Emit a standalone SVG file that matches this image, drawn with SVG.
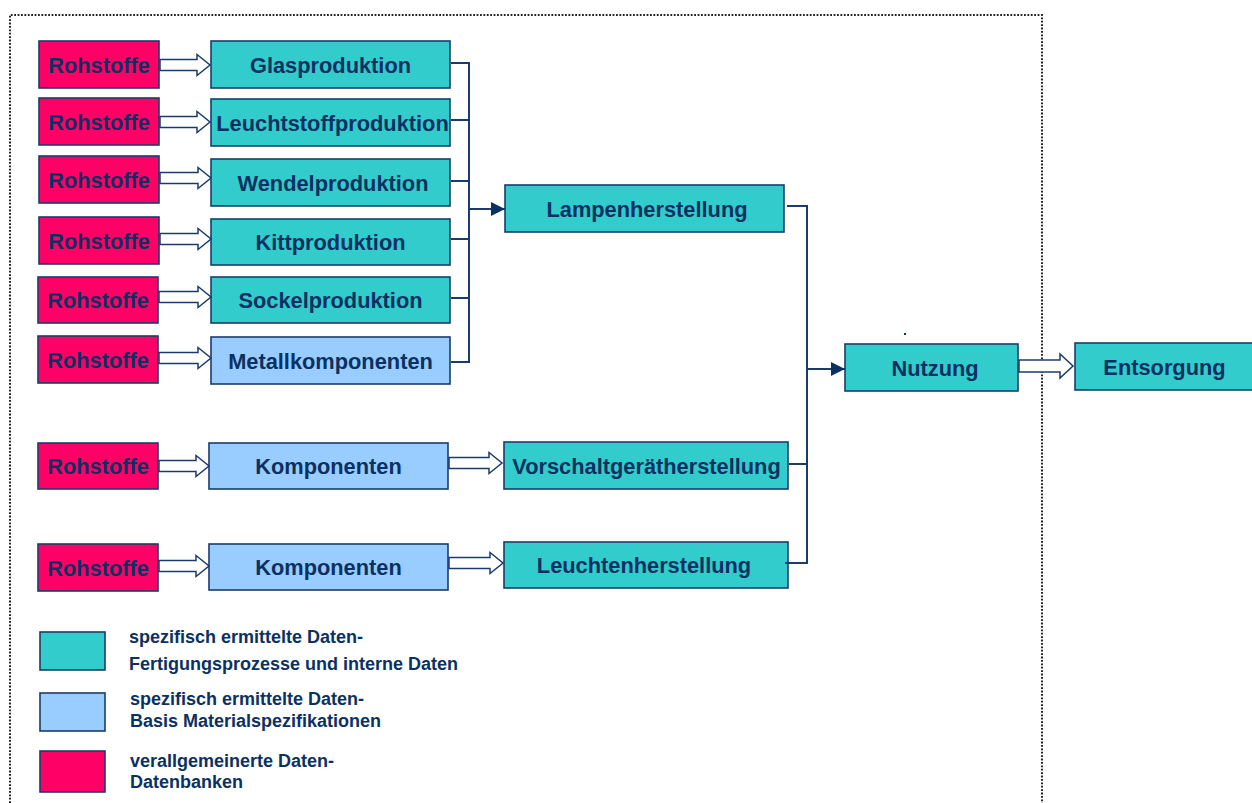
<svg xmlns="http://www.w3.org/2000/svg" width="1252" height="803" viewBox="0 0 1252 803">
  <style>
    .box { stroke: #1b3c6b; stroke-width: 1.6; }
    .raw { fill: #ff0066; }
    .proc { fill: #33cccc; }
    .comp { fill: #99ccff; }
    .lbl { font-family: "Liberation Sans", Arial, sans-serif; font-weight: bold; font-size: 21.8px; fill: #0b3162; text-anchor: middle; }
    .leg { font-family: "Liberation Sans", Arial, sans-serif; font-weight: bold; font-size: 18px; fill: #0b3162; }
    .hollow { fill: #ffffff; stroke: #1b3c6b; stroke-width: 1.5; stroke-linejoin: miter; }
    .wire { fill: none; stroke: #1b3c6b; stroke-width: 2; }
    .frame { fill: none; stroke: #222222; stroke-width: 2; stroke-dasharray: 1.8 1.6; }
  </style>
  <defs>
    <marker id="tri" markerUnits="userSpaceOnUse" markerWidth="14" markerHeight="14" refX="14" refY="7" orient="auto">
      <path d="M0,0 L14,7 L0,14 Z" fill="#0b3162"/>
    </marker>
  </defs>

  <!-- system boundary -->
  <path class="frame" d="M10,803 V15 H1042 V803"/>

  <!-- raw material inputs -->
  <g id="raw1"><rect class="box raw" x="39" y="41" width="120" height="47"/><text class="lbl" x="99" y="72.5">Rohstoffe</text></g>
  <g id="raw2"><rect class="box raw" x="39" y="98" width="120" height="47"/><text class="lbl" x="99" y="129.5">Rohstoffe</text></g>
  <g id="raw3"><rect class="box raw" x="39" y="156" width="120" height="47"/><text class="lbl" x="99" y="187.5">Rohstoffe</text></g>
  <g id="raw4"><rect class="box raw" x="39" y="217" width="120" height="47"/><text class="lbl" x="99" y="248.5">Rohstoffe</text></g>
  <g id="raw5"><rect class="box raw" x="38" y="277" width="120" height="46"/><text class="lbl" x="98" y="308">Rohstoffe</text></g>
  <g id="raw6"><rect class="box raw" x="38" y="336" width="120" height="47"/><text class="lbl" x="98" y="367.5">Rohstoffe</text></g>
  <g id="raw7"><rect class="box raw" x="38" y="443" width="120" height="46"/><text class="lbl" x="98" y="474">Rohstoffe</text></g>
  <g id="raw8"><rect class="box raw" x="38" y="544" width="120" height="47"/><text class="lbl" x="98" y="575.5">Rohstoffe</text></g>

  <!-- lamp sub-processes -->
  <g id="glas"><rect class="box proc" x="211" y="41" width="239" height="47"/><text class="lbl" x="330.5" y="72.5">Glasproduktion</text></g>
  <g id="leuchtstoff"><rect class="box proc" x="211" y="99" width="239" height="47"/><text class="lbl" x="332.5" y="130.5">Leuchtstoffproduktion</text></g>
  <g id="wendel"><rect class="box proc" x="211" y="159" width="239" height="47"/><text class="lbl" x="333" y="190.5">Wendelproduktion</text></g>
  <g id="kitt"><rect class="box proc" x="211" y="219" width="239" height="46"/><text class="lbl" x="330.5" y="250">Kittproduktion</text></g>
  <g id="sockel"><rect class="box proc" x="211" y="277" width="239" height="46"/><text class="lbl" x="330.5" y="308">Sockelproduktion</text></g>
  <g id="metall"><rect class="box comp" x="211" y="337" width="239" height="47"/><text class="lbl" x="330.5" y="368.5">Metallkomponenten</text></g>

  <!-- component suppliers -->
  <g id="komp1"><rect class="box comp" x="209" y="443" width="239" height="46"/><text class="lbl" x="328.5" y="474">Komponenten</text></g>
  <g id="komp2"><rect class="box comp" x="209" y="544" width="239" height="46"/><text class="lbl" x="328.5" y="575">Komponenten</text></g>

  <!-- manufacturing -->
  <g id="lampen"><rect class="box proc" x="505" y="185" width="279" height="47"/><text class="lbl" x="647" y="216.5">Lampenherstellung</text></g>
  <g id="vorschalt"><rect class="box proc" x="504" y="442" width="284" height="47"/><text class="lbl" x="646.5" y="473.5">Vorschaltgerätherstellung</text></g>
  <g id="leuchten"><rect class="box proc" x="504" y="542" width="284" height="46"/><text class="lbl" x="644" y="573">Leuchtenherstellung</text></g>

  <!-- use and disposal -->
  <g id="nutzung"><rect class="box proc" x="845" y="344" width="173" height="47"/><text class="lbl" x="935" y="375.5">Nutzung</text></g>
  <g id="entsorgung"><rect class="box proc" x="1075" y="343" width="185" height="47"/><text class="lbl" x="1164.5" y="374.5">Entsorgung</text></g>
  <rect x="904" y="333" width="2" height="2" fill="#0b3162"/>

  <!-- connectors -->
  <g id="connectors">
    <!-- material flows (hollow arrows) -->
    <path class="hollow" d="M160,59.5 H197 V54.5 L210,65 L197,75.5 V70.5 H160 Z"/>
    <path class="hollow" d="M160,116.5 H197 V111.5 L210,122 L197,132.5 V127.5 H160 Z"/>
    <path class="hollow" d="M160,172.5 H198 V167.5 L211,178 L198,188.5 V183.5 H160 Z"/>
    <path class="hollow" d="M160,233.5 H198 V228.5 L211,239 L198,249.5 V244.5 H160 Z"/>
    <path class="hollow" d="M159,291.5 H198 V286.5 L211,297 L198,307.5 V302.5 H159 Z"/>
    <path class="hollow" d="M159,352.5 H198 V347.5 L211,358 L198,368.5 V363.5 H159 Z"/>
    <path class="hollow" d="M159,460.5 H196 V455.5 L209,466 L196,476.5 V471.5 H159 Z"/>
    <path class="hollow" d="M159,560.5 H196 V555.5 L209,566 L196,576.5 V571.5 H159 Z"/>
    <path class="hollow" d="M449,457.5 H489 V452.5 L502,463 L489,473.5 V468.5 H449 Z"/>
    <path class="hollow" d="M449,557.5 H490 V552.5 L503,563 L490,573.5 V568.5 H449 Z"/>
    <path class="hollow" d="M1019,360 H1060 V354 L1073,366 L1060,378 V372 H1019 Z"/>

    <!-- collector into lamp assembly -->
    <path class="wire" d="M451,63 H469 M451,120 H469 M451,181 H469 M451,239 H469 M451,298 H469 M451,362 H469 M469,62 V363"/>
    <path class="wire" d="M469,209 H505" marker-end="url(#tri)"/>

    <!-- collector into use phase -->
    <path class="wire" d="M787,206 H807 M789,464 H807 M785,563 H807 M807,205 V564"/>
    <path class="wire" d="M807,369 H845" marker-end="url(#tri)"/>
  </g>

  <!-- legend -->
  <g id="legend">
    <rect class="box proc" x="40" y="632" width="65" height="38"/>
    <text class="leg" x="129" y="643">spezifisch ermittelte Daten-</text>
    <text class="leg" x="129" y="670">Fertigungsprozesse und interne Daten</text>
    <rect class="box comp" x="40" y="693" width="65" height="38"/>
    <text class="leg" x="130" y="705">spezifisch ermittelte Daten-</text>
    <text class="leg" x="130" y="727">Basis Materialspezifikationen</text>
    <rect class="box raw" x="40" y="751" width="65" height="41"/>
    <text class="leg" x="130" y="767">verallgemeinerte Daten-</text>
    <text class="leg" x="130" y="788">Datenbanken</text>
  </g>
</svg>
